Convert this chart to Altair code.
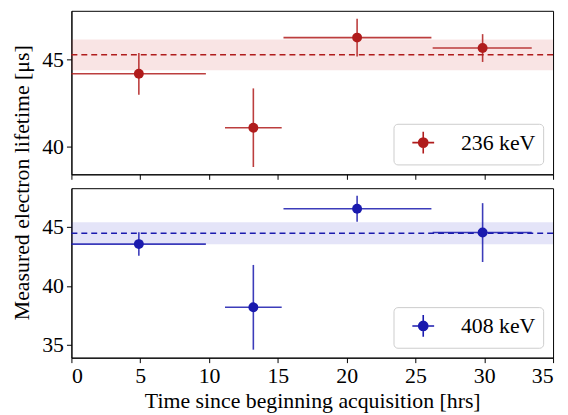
import altair as alt
import pandas as pd

# Time bins [hrs]
time_center = [4.9, 13.22, 20.76, 29.88]
time_lo = [0.0, 11.16, 15.41, 26.25]
time_hi = [9.77, 15.28, 26.16, 33.45]

# 236 keV
tau_236 = [44.18, 41.08, 46.26, 45.66]
err_236 = [1.2, 2.26, 1.08, 0.8]
mean_236 = 45.27
band_236 = 0.88

# 408 keV
tau_408 = [43.55, 38.18, 46.55, 44.53]
err_408 = [1.0, 3.6, 1.1, 2.5]
mean_408 = 44.47
band_408 = 0.94

FONT = "Liberation Serif"
FS = 22
CROSS = "M-1,0L1,0M0,-1L0,1M0.42,0A0.42,0.42,0,1,1,-0.42,0A0.42,0.42,0,1,1,0.42,0Z"


def panel(label, tau, err, mean, band, color, band_color, domain, yvals, height, bottom):
    df = pd.DataFrame({
        "t": time_center, "t_lo": time_lo, "t_hi": time_hi, "tau": tau,
        "tau_lo": [v - e for v, e in zip(tau, err)],
        "tau_hi": [v + e for v, e in zip(tau, err)],
        "series": [label] * len(tau),
    })
    mdf = pd.DataFrame({"mean": [mean], "lo": [mean - band], "hi": [mean + band]})
    xscale = alt.Scale(domain=[0, 35], nice=False, zero=False)
    yscale = alt.Scale(domain=domain, nice=False, zero=False)
    xaxis = alt.Axis(values=list(range(0, 36, 5)), labels=bottom,
                     title="Time since beginning acquisition [hrs]" if bottom else None)
    if bottom:
        yaxis = alt.Axis(values=yvals, title=None)
    else:
        yaxis = alt.Axis(values=yvals, title="Measured electron lifetime [μs]",
                         titleY=173, titlePadding=8)

    bandc = alt.Chart(mdf).mark_rect(color=band_color, opacity=0.13).encode(
        x=alt.value(0), x2=alt.value("width"),
        y=alt.Y("lo:Q", scale=yscale, axis=yaxis), y2="hi:Q")
    meanl = alt.Chart(mdf).mark_rule(color=color, strokeDash=[6, 4], strokeWidth=1.5).encode(
        y=alt.Y("mean:Q", scale=yscale, axis=yaxis))
    base = alt.Chart(df)
    herr = base.mark_rule(color=color, strokeWidth=1.6, opacity=0.85).encode(
        x=alt.X("t_lo:Q", scale=xscale, axis=xaxis), x2="t_hi:Q",
        y=alt.Y("tau:Q", scale=yscale, axis=yaxis))
    verr = base.mark_rule(color=color, strokeWidth=1.6, opacity=0.85).encode(
        x=alt.X("t:Q", scale=xscale, axis=xaxis),
        y=alt.Y("tau_lo:Q", scale=yscale, axis=yaxis), y2="tau_hi:Q")
    pts = base.mark_point(filled=True, size=100, opacity=1).encode(
        x=alt.X("t:Q", scale=xscale, axis=xaxis),
        y=alt.Y("tau:Q", scale=yscale, axis=yaxis),
        color=alt.Color("series:N", scale=alt.Scale(domain=[label], range=[color]),
                        legend=alt.Legend(title=None, orient="bottom-right", offset=10,
                                          symbolType=CROSS, symbolSize=484,
                                          symbolStrokeColor=color, symbolStrokeWidth=1.6,
                                          symbolFillColor=color,
                                          labelFont=FONT, labelFontSize=FS, labelColor="black",
                                          labelOffset=26, symbolOffset=11, padding=7,
                                          fillColor="white", strokeColor="#cccccc",
                                          cornerRadius=4)))
    return alt.layer(bandc, meanl, herr, verr, pts).properties(width=486, height=height)


top = panel("236 keV", tau_236, err_236, mean_236, band_236, "#b01c1c", "#d03030",
            [38.4, 47.8], [40, 45], 165, False)
bot = panel("408 keV", tau_408, err_408, mean_408, band_408, "#1a1aae", "#3030c8",
            [33.9, 48.3], [35, 40, 45], 171, True)

chart = alt.vconcat(top, bot, spacing=14, bounds="flush").resolve_scale(
    color="independent").resolve_legend(color="independent").properties(
    padding={"left": 2, "top": 0, "right": 5, "bottom": 0}
).configure_view(stroke="black", strokeWidth=1).configure_axis(
    grid=False, domainColor="black", tickColor="black", tickSize=5,
    labelFont=FONT, labelFontSize=FS, labelColor="black", labelPadding=3,
    titleFont=FONT, titleFontSize=FS, titleFontWeight="normal", titleColor="black",
)

chart.save("out.html", embed_options={"renderer": "svg", "actions": False})
